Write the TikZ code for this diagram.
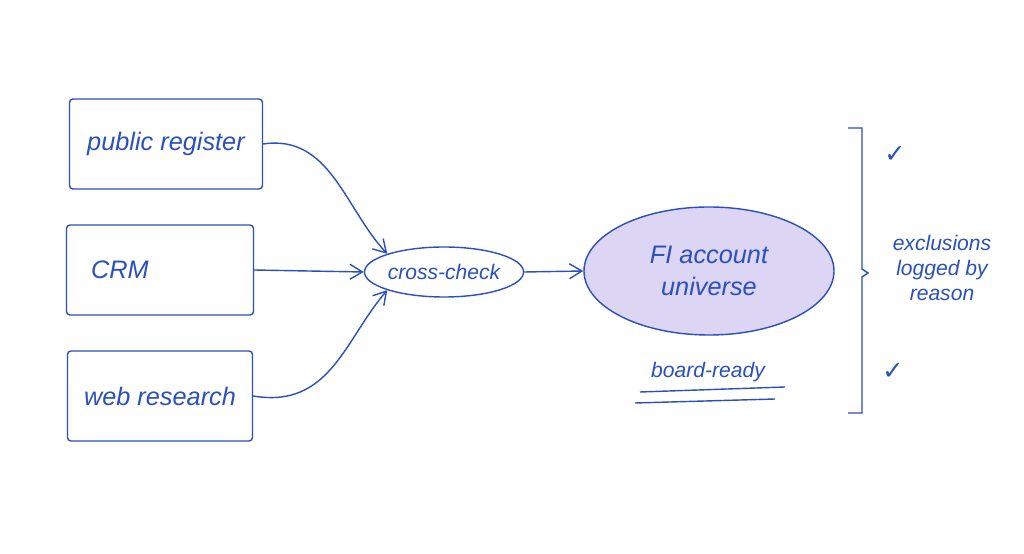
\documentclass[tikz,border=0pt]{standalone}
\usepackage{fontspec}
\setmainfont{Liberation Sans}
\usetikzlibrary{shapes.geometric,arrows.meta}
\definecolor{ink}{HTML}{2A4FC0}
\definecolor{lav}{HTML}{DDD5F4}
\begin{document}
\begin{tikzpicture}
    % page frame
    \useasboundingbox (0,0) rectangle (20.48,11.08);
    \tikzset{src/.style={draw=ink,thick,rounded corners=2pt,minimum height=1.8cm,text=ink,font=\Large\itshape},
             flow/.style={-{Straight Barb[length=2.5mm,width=3mm]},thick,draw=ink}}

    \node (reg) at (3.32,8.20) [src,minimum width=3.86cm] {public register};
    \node (crm) at (3.2,5.68) [src,minimum width=3.74cm] {\hspace*{-1.6cm}CRM};
    \node (web) at (3.2,3.16) [src,minimum width=3.7cm] {web research};

    \node (chk) at (8.88,5.64) [draw=ink,thick,ellipse,minimum width=2.9cm,minimum height=1.0cm,inner sep=0pt,text=ink,font=\large\itshape] {cross-check};
    \node (fi) at (14.18,5.66) [draw=ink,thick,fill=lav,ellipse,minimum width=5.0cm,minimum height=2.56cm,align=center,text=ink,font=\Large\itshape] {FI account\\universe};
    \node (brd) at (14.16,3.64) [text=ink,font=\large\itshape] {board-ready};
    \draw [ink,thick] (12.8,3.24) -- (15.7,3.34);
    \draw [ink,thick] (12.7,3.02) -- (15.5,3.10);

    \draw [flow] (reg.east) .. controls (6.6,8.4) and (6.9,6.9) .. (chk.north west);
    \draw [flow] (crm.east) -- (chk.west);
    \draw [flow] (web.east) .. controls (6.6,2.9) and (6.9,4.3) .. (chk.south west);
    \draw [flow] (chk.east) -- (fi.west);

    % bracket
    \draw [ink,thick] (16.96,8.52) -- (17.24,8.52) -- (17.24,5.7) -- (17.36,5.62) -- (17.24,5.54) -- (17.24,2.82) -- (16.96,2.82);
    \node (ck1) at (17.9,7.98) [text=ink,font=\Large] {\fontspec{DejaVu Sans}✓};
    \node (ck2) at (17.86,3.64) [text=ink,font=\Large] {\fontspec{DejaVu Sans}✓};
    \node (exc) at (18.84,5.72) [align=center,text=ink,font=\large\itshape] {exclusions\\logged by\\reason};
\end{tikzpicture}
\end{document}
